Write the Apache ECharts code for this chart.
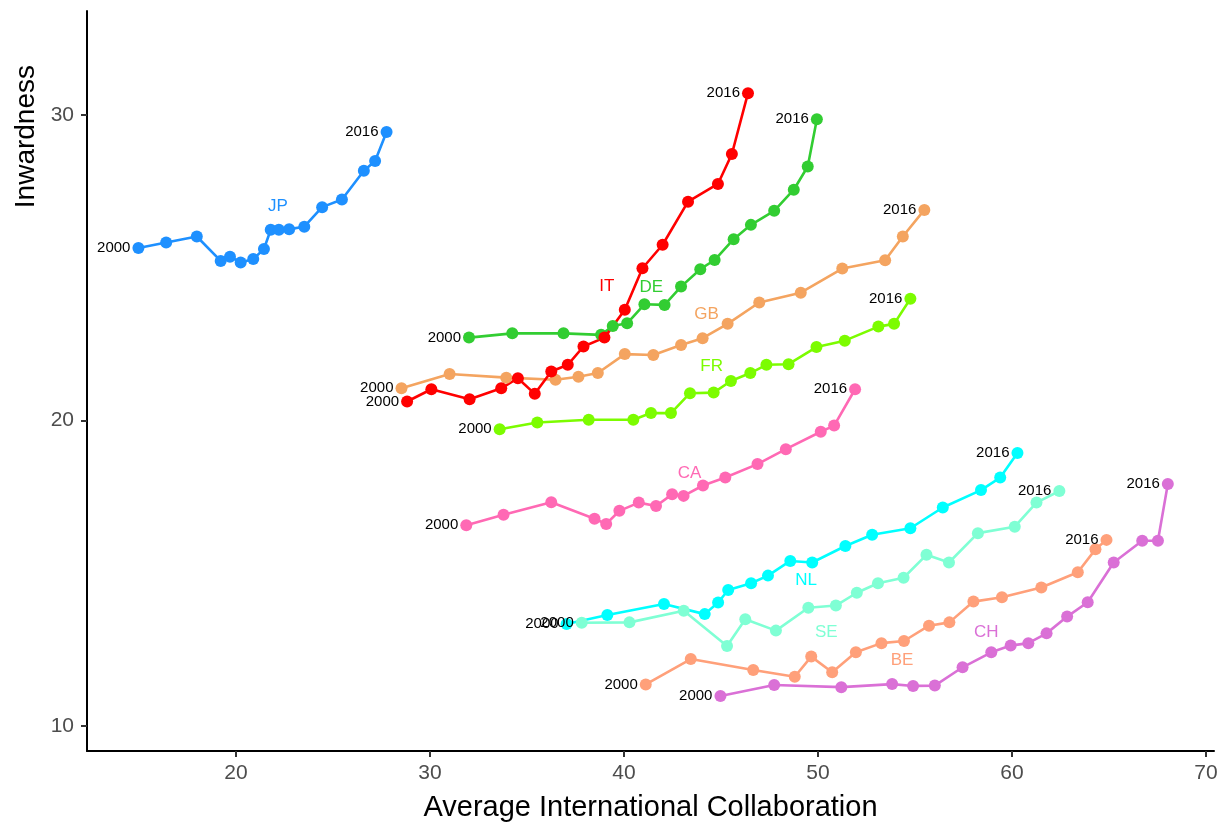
<!DOCTYPE html>
<html>
<head>
<meta charset="utf-8">
<title>Inwardness vs. Average International Collaboration</title>
<script src="https://cdn.jsdelivr.net/npm/echarts@6/dist/echarts.min.js"></script>
<style>
  html, body { margin: 0; padding: 0; background: #ffffff; }
  #chart { width: 1220px; height: 822px; }
</style>
</head>
<body>
<div id="chart"></div>
<script>
// Yearly values, 2000 through 2016, for each country.
const years = ['2000','2001','2002','2003','2004','2005','2006','2007','2008',
               '2009','2010','2011','2012','2013','2014','2015','2016'];

const JP_collab = [14.97,16.40,17.98,19.21,19.69,20.24,20.89,21.44,21.79,22.21,22.74,23.52,24.44,25.46,26.59,27.17,27.76];
const JP_inward = [25.64,25.82,26.02,25.22,25.36,25.17,25.28,25.61,26.24,26.24,26.26,26.34,26.98,27.23,28.17,28.49,29.44];

const IT_collab = [28.82,30.07,32.04,33.67,34.53,35.40,36.25,37.10,37.91,38.99,40.04,40.95,41.99,43.30,44.84,45.56,46.39];
const IT_inward = [20.62,21.02,20.69,21.05,21.38,20.87,21.60,21.82,22.42,22.71,23.62,24.98,25.75,27.16,27.74,28.72,30.71];

const DE_collab = [32.01,34.24,36.88,38.82,39.42,40.16,41.05,42.09,42.94,43.93,44.67,45.65,46.54,47.74,48.75,49.47,49.94];
const DE_inward = [22.71,22.85,22.85,22.80,23.09,23.18,23.80,23.78,24.38,24.95,25.25,25.93,26.40,26.86,27.55,28.31,29.86];

const GB_collab = [28.53,31.01,33.93,36.47,37.65,38.65,40.04,41.51,42.94,44.05,45.34,46.97,49.11,51.25,53.46,54.37,55.48];
const GB_inward = [21.05,21.52,21.40,21.33,21.43,21.55,22.17,22.14,22.47,22.69,23.16,23.86,24.18,24.97,25.24,26.02,26.89];

const FR_collab = [33.59,35.53,38.18,40.48,41.39,42.42,43.40,44.62,45.51,46.51,47.34,48.48,49.92,51.38,53.11,53.92,54.76];
const FR_inward = [19.71,19.93,20.02,20.02,20.24,20.24,20.89,20.91,21.29,21.55,21.82,21.84,22.40,22.61,23.07,23.16,23.98];

const CA_collab = [31.87,33.79,36.25,38.48,39.08,39.76,40.76,41.65,42.48,43.07,44.07,45.22,46.88,48.34,50.14,50.83,51.91];
const CA_inward = [16.57,16.91,17.32,16.78,16.61,17.04,17.31,17.20,17.58,17.53,17.87,18.13,18.57,19.06,19.63,19.83,21.02];

const NL_collab = [37.04,39.14,42.06,44.16,44.85,45.37,46.55,47.42,48.57,49.70,51.41,52.79,54.76,56.43,58.40,59.39,60.28];
const NL_inward = [13.34,13.63,13.99,13.66,14.04,14.45,14.67,14.92,15.40,15.35,15.89,16.26,16.47,17.15,17.72,18.13,18.93];

const SE_collab = [37.82,40.28,43.08,45.31,46.25,47.83,49.50,50.92,52.00,53.09,54.41,55.59,56.75,58.24,60.14,61.26,62.44];
const SE_inward = [13.38,13.39,13.77,12.62,13.49,13.12,13.87,13.94,14.36,14.67,14.85,15.60,15.35,16.31,16.52,17.31,17.69];

const BE_collab = [41.12,43.44,46.66,48.80,49.65,50.73,51.95,53.27,54.43,55.72,56.77,58.01,59.48,61.51,63.39,64.30,64.87];
const BE_inward = [11.36,12.19,11.83,11.61,12.27,11.76,12.41,12.71,12.78,13.28,13.39,14.07,14.21,14.53,15.03,15.78,16.09];

const CH_collab = [44.97,47.74,51.20,53.82,54.90,56.02,57.45,58.93,59.93,60.84,61.78,62.84,63.90,65.24,66.71,67.52,68.03];
const CH_inward = [10.98,11.34,11.27,11.37,11.31,11.32,11.92,12.41,12.63,12.71,13.03,13.58,14.05,15.35,16.06,16.06,17.92];

const xTicks = [20, 30, 40, 50, 60, 70];
const yTicks = [10, 20, 30];

// Country order, colours and where each country code sits next to its path.
const countries = [
  { code: 'BE', x: BE_collab, y: BE_inward, color: '#FFA07A', tag: { at: 8,  dx: -2,  dy: 19 } },
  { code: 'CA', x: CA_collab, y: CA_inward, color: '#FF69B4', tag: { at: 9,  dx: 6,   dy: -23 } },
  { code: 'CH', x: CH_collab, y: CH_inward, color: '#DA70D6', tag: { at: 7,  dx: -5,  dy: -20 } },
  { code: 'DE', x: DE_collab, y: DE_inward, color: '#32CD32', tag: { at: 6,  dx: 7,   dy: -17 } },
  { code: 'FR', x: FR_collab, y: FR_inward, color: '#7CFC00', tag: { at: 7,  dx: -2,  dy: -26 } },
  { code: 'GB', x: GB_collab, y: GB_inward, color: '#F4A460', tag: { at: 9,  dx: 4,   dy: -24 } },
  { code: 'IT', x: IT_collab, y: IT_inward, color: '#FF0000', tag: { at: 10, dx: -18, dy: -23 } },
  { code: 'JP', x: JP_collab, y: JP_inward, color: '#1E90FF', tag: { at: 9,  dx: -1,  dy: -23 } },
  { code: 'NL', x: NL_collab, y: NL_inward, color: '#00FFFF', tag: { at: 9,  dx: -6,  dy: 18 } },
  { code: 'SE', x: SE_collab, y: SE_inward, color: '#7FFFD4', tag: { at: 6,  dx: 18,  dy: 25 } }
];

const FONT = 'Helvetica, "Liberation Sans", Arial, sans-serif';
const DOT = 12;

const lineSeries = [];
const pointSeries = [];

countries.forEach(c => {
  const pts = c.x.map((v, i) => [v, c.y[i]]);
  lineSeries.push({
    name: c.code,
    type: 'line',
    data: pts,
    showSymbol: false,
    symbol: 'none',
    z: 2,
    silent: true,
    lineStyle: { color: c.color, width: 2.6 },
    animation: false
  });

  const last = pts.length - 1;
  const items = pts.map((p, i) => {
    const item = { value: p };
    if (i === 0 || i === last) {
      item.label = {
        show: true,
        formatter: years[i],
        position: 'left',
        distance: 2,
        offset: [0, -4],
        color: '#000000',
        fontSize: 15,
        fontFamily: FONT
      };
    } else if (i === c.tag.at) {
      // position is measured from the dot's top-left corner
      item.label = {
        show: true,
        formatter: c.code,
        position: [DOT / 2 + c.tag.dx, DOT / 2 + c.tag.dy],
        align: 'center',
        verticalAlign: 'middle',
        color: c.color,
        fontSize: 17,
        fontFamily: FONT
      };
    }
    return item;
  });

  pointSeries.push({
    name: c.code,
    type: 'scatter',
    data: items,
    symbol: 'circle',
    symbolSize: DOT,
    z: 3,
    itemStyle: { color: c.color, opacity: 1 },
    label: { show: false },
    labelLayout: { hideOverlap: false },
    animation: false
  });
});

const chart = echarts.init(document.getElementById('chart'), null, { renderer: 'canvas' });

chart.setOption({
  backgroundColor: '#ffffff',
  animation: false,
  grid: { left: 87, top: 11, right: 6, bottom: 71, containLabel: false, outerBoundsMode: 'none' },
  xAxis: {
    type: 'value',
    min: 12.32,
    max: 70.41,
    name: 'Average International Collaboration',
    nameLocation: 'middle',
    nameGap: 42,
    nameTextStyle: { color: '#000000', fontSize: 29, fontFamily: FONT },
    axisLine: { show: true, onZero: false, lineStyle: { color: '#000000', width: 2 } },
    axisTick: { show: true, customValues: xTicks, length: 6, lineStyle: { color: '#333333', width: 2 } },
    axisLabel: { customValues: xTicks, color: '#4D4D4D', fontSize: 21, fontFamily: FONT, margin: 12 },
    splitLine: { show: false }
  },
  yAxis: {
    type: 'value',
    min: 9.18,
    max: 33.40,
    axisLine: { show: true, onZero: false, lineStyle: { color: '#000000', width: 2 } },
    axisTick: { show: true, customValues: yTicks, length: 6, lineStyle: { color: '#333333', width: 2 } },
    axisLabel: { customValues: yTicks, color: '#4D4D4D', fontSize: 21, fontFamily: FONT, margin: 13 },
    splitLine: { show: false }
  },
  graphic: [{
    type: 'text',
    left: 12,
    top: 65,
    rotation: Math.PI / 2,
    style: {
      text: 'Inwardness',
      fill: '#000000',
      fontSize: 28,
      fontFamily: FONT
    }
  }],
  series: lineSeries.concat(pointSeries)
});
</script>
</body>
</html>
